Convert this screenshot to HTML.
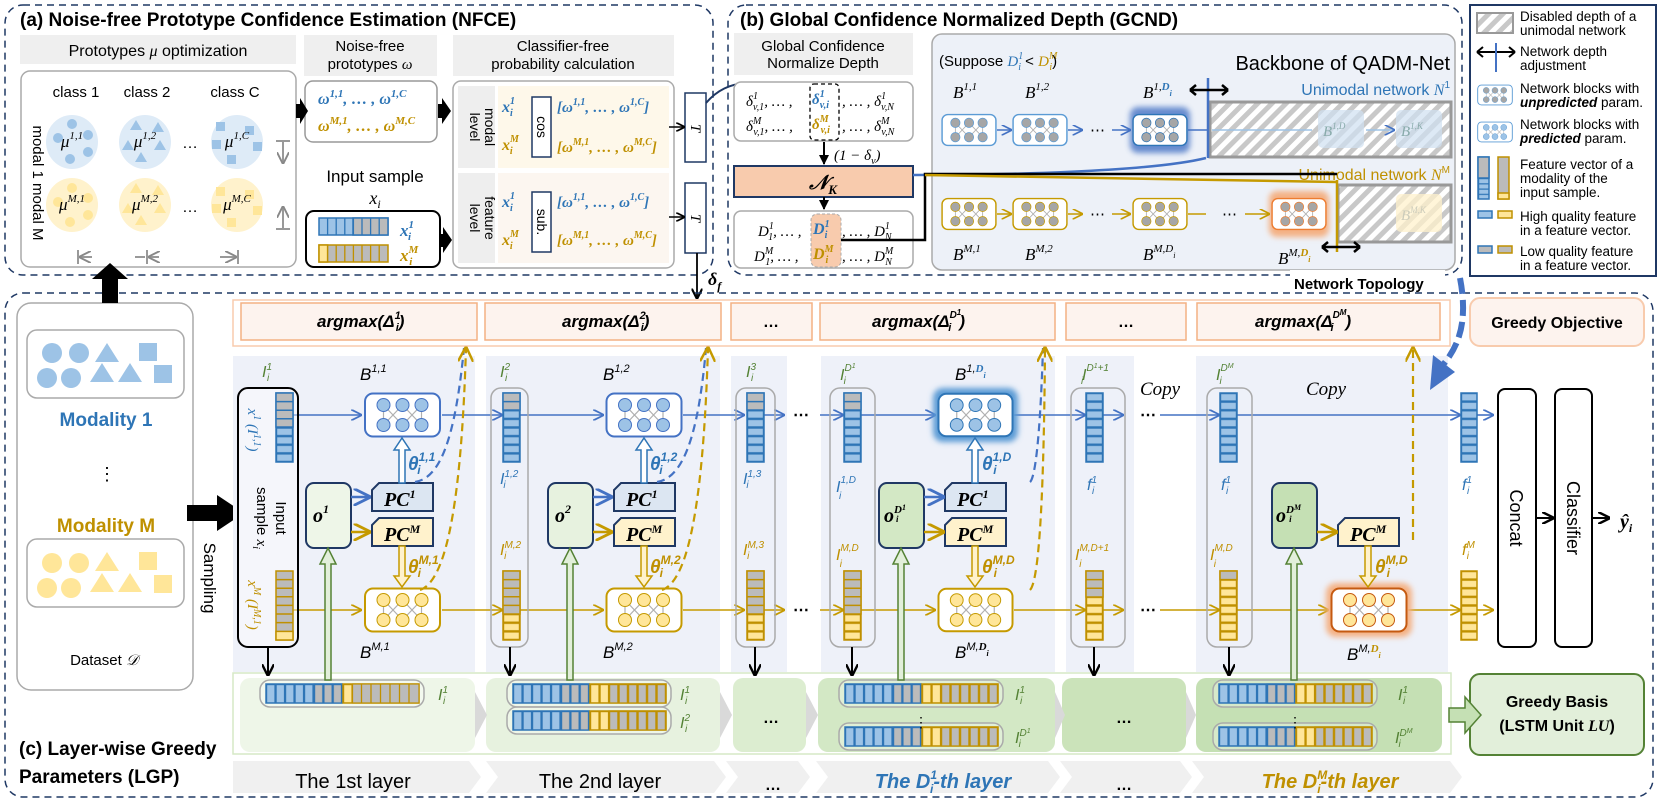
<!DOCTYPE html>
<html><head><meta charset="utf-8"><style>
html,body{margin:0;padding:0;background:#fff}
svg{display:block}
text{font-family:"Liberation Sans",sans-serif}
.m{font-family:"Liberation Serif",serif;font-style:italic}
.mb{font-family:"Liberation Serif",serif;font-style:italic;font-weight:bold}
.b{font-weight:bold}
</style></head><body>
<svg width="1661" height="803" viewBox="0 0 1661 803" xmlns="http://www.w3.org/2000/svg">
<defs>
<symbol id="nb" viewBox="0 0 78 46">
<rect x="1.5" y="1.5" width="75" height="43" rx="8" fill="#fff" stroke-width="2"/>
<g stroke="#b0b0b0" stroke-width="1.2"><line x1="20" y1="13" x2="39" y2="33"/><line x1="39" y1="13" x2="20" y2="33"/><line x1="39" y1="13" x2="58" y2="33"/><line x1="58" y1="13" x2="39" y2="33"/><line x1="20" y1="13" x2="20" y2="33"/><line x1="58" y1="13" x2="58" y2="33"/></g>
<g fill="currentColor"><circle cx="20" cy="13" r="6.5"/><circle cx="39" cy="13" r="6.5"/><circle cx="58" cy="13" r="6.5"/><circle cx="20" cy="33" r="6.5"/><circle cx="39" cy="33" r="6.5"/><circle cx="58" cy="33" r="6.5"/></g>
</symbol>
<pattern id="vb" patternUnits="objectBoundingBox" width="1" height="0.125"><rect x="0" y="0" width="17" height="8.6" fill="#9dc3e6" stroke="#2e75b6" stroke-width="2.4"/></pattern>
<pattern id="vy" patternUnits="objectBoundingBox" width="1" height="0.125"><rect x="0" y="0" width="17" height="8.6" fill="#ffe699" stroke="#bf9000" stroke-width="2.4"/></pattern>
<pattern id="hb" patternUnits="objectBoundingBox" width="0.125" height="1"><rect x="0" y="0" width="9.6" height="20" fill="#9dc3e6" stroke="#2e75b6" stroke-width="2.4"/></pattern>
<pattern id="hy" patternUnits="objectBoundingBox" width="0.125" height="1"><rect x="0" y="0" width="9.6" height="20" fill="#ffe699" stroke="#bf9000" stroke-width="2.4"/></pattern>
<pattern id="hgb3" patternUnits="objectBoundingBox" width="0.3333" height="1"><rect x="0" y="0" width="9.4" height="20" fill="#bbb" stroke="#2e75b6" stroke-width="2.4"/></pattern>
<pattern id="hgy6" patternUnits="objectBoundingBox" width="0.16667" height="1"><rect x="0" y="0" width="9.5" height="20" fill="#bbb" stroke="#bf9000" stroke-width="2.4"/></pattern>
<pattern id="hatch" patternUnits="userSpaceOnUse" width="10" height="10" patternTransform="rotate(45)"><rect width="10" height="10" fill="#fff"/><rect width="5" height="10" fill="#c8c8c8"/></pattern>
<marker id="ab" viewBox="0 0 10 10" refX="9" refY="5" markerWidth="7" markerHeight="7" orient="auto"><path d="M0,0 L10,5 L0,10" fill="none" stroke="#4472c4" stroke-width="1.6"/></marker>
<marker id="ay" viewBox="0 0 10 10" refX="9" refY="5" markerWidth="7" markerHeight="7" orient="auto"><path d="M0,0 L10,5 L0,10" fill="none" stroke="#c59a00" stroke-width="1.6"/></marker>
<marker id="ak" viewBox="0 0 10 10" refX="9" refY="5" markerWidth="6" markerHeight="6" orient="auto"><path d="M0,0 L10,5 L0,10" fill="none" stroke="#000" stroke-width="2"/></marker>
<marker id="akf" viewBox="0 0 10 10" refX="9" refY="5" markerWidth="5" markerHeight="5" orient="auto"><path d="M0,0 L10,5 L0,10z" fill="#000"/></marker>
<marker id="ag" viewBox="0 0 10 10" refX="9" refY="5" markerWidth="6" markerHeight="6" orient="auto"><path d="M0,0 L10,5 L0,10" fill="none" stroke="#888" stroke-width="1.6"/></marker>
<filter id="glowB" x="-30%" y="-30%" width="160%" height="160%"><feGaussianBlur stdDeviation="3"/></filter>
</defs>

<!-- ============ (a) ============ -->
<rect x="5" y="5" width="708" height="270" rx="18" fill="none" stroke="#1f3864" stroke-width="1.5" stroke-dasharray="7,5"/>
<text x="20" y="26" font-size="19" class="b">(a) Noise-free Prototype Confidence Estimation (NFCE)</text>
<rect x="20" y="35" width="276" height="29" fill="#efefef"/>
<text x="158" y="56" font-size="16" text-anchor="middle">Prototypes <tspan class="m">μ</tspan> optimization</text>
<rect x="21" y="71" width="275" height="196" rx="9" fill="#fff" stroke="#aaa" stroke-width="1.5"/>
<text x="76" y="97" font-size="15" text-anchor="middle">class 1</text>
<text x="147" y="97" font-size="15" text-anchor="middle">class 2</text>
<text x="235" y="97" font-size="15" text-anchor="middle">class C</text>
<text transform="translate(33,183) rotate(90)" font-size="15" text-anchor="middle">modal 1  modal M</text>
<g>
<ellipse cx="72" cy="142" rx="26" ry="27" fill="#deebf7"/><ellipse cx="145" cy="142" rx="26" ry="27" fill="#deebf7"/><ellipse cx="237" cy="142" rx="26" ry="27" fill="#deebf7"/>
<ellipse cx="72" cy="205" rx="26" ry="27" fill="#fff2cc"/><ellipse cx="145" cy="205" rx="26" ry="27" fill="#fff2cc"/><ellipse cx="237" cy="205" rx="26" ry="27" fill="#fff2cc"/>
<g fill="#9dc3e6"><circle cx="72" cy="124" r="5"/><circle cx="58" cy="138" r="5"/><circle cx="88" cy="135" r="5"/><circle cx="70" cy="159" r="5"/><circle cx="88" cy="152" r="5"/>
<path d="M136,120l6,10h-12z M158,122l6,10h-12z M128,140l6,10h-12z M160,140l6,10h-12z M141,152l6,10h-12z"/>
<rect x="216" y="122" width="9" height="9"/><rect x="245" y="126" width="9" height="9"/><rect x="212" y="140" width="9" height="9"/><rect x="253" y="142" width="9" height="9"/><rect x="227" y="155" width="9" height="9"/></g>
<g fill="#ffe699"><circle cx="72" cy="188" r="5"/><circle cx="58" cy="202" r="5"/><circle cx="88" cy="198" r="5"/><circle cx="70" cy="222" r="5"/><circle cx="88" cy="215" r="5"/>
<path d="M136,183l6,10h-12z M158,185l6,10h-12z M128,203l6,10h-12z M160,203l6,10h-12z M141,215l6,10h-12z"/>
<rect x="216" y="187" width="9" height="9"/><rect x="245" y="190" width="9" height="9"/><rect x="212" y="204" width="9" height="9"/><rect x="253" y="206" width="9" height="9"/><rect x="227" y="218" width="9" height="9"/></g>
<text x="72" y="147" class="m" font-size="17" text-anchor="middle">μ<tspan font-size="11" dy="-8">1,1</tspan></text>
<text x="145" y="147" class="m" font-size="17" text-anchor="middle">μ<tspan font-size="11" dy="-8">1,2</tspan></text>
<text x="237" y="147" class="m" font-size="17" text-anchor="middle">μ<tspan font-size="11" dy="-8">1,C</tspan></text>
<text x="72" y="210" class="m" font-size="17" text-anchor="middle">μ<tspan font-size="11" dy="-8">M,1</tspan></text>
<text x="145" y="210" class="m" font-size="17" text-anchor="middle">μ<tspan font-size="11" dy="-8">M,2</tspan></text>
<text x="237" y="210" class="m" font-size="17" text-anchor="middle">μ<tspan font-size="11" dy="-8">M,C</tspan></text>
<text x="190" y="148" font-size="16" text-anchor="middle">…</text><text x="190" y="212" font-size="16" text-anchor="middle">…</text>
</g>
<g stroke="#999" stroke-width="2" fill="none">
<path d="M276,141h14M283,141v22" marker-end="url(#ag)"/><path d="M276,229h14M283,229v-22" marker-end="url(#ag)"/>
<path d="M78,250v14M92,257h-12" marker-end="url(#ag)"/><path d="M147,250v14M135,257h10M159,257h-10" marker-end="url(#ag)"/><path d="M238,250v14M220,257h16" marker-end="url(#ag)"/>
</g>
<rect x="304" y="35" width="133" height="41" fill="#efefef"/>
<text x="370" y="51" font-size="15" text-anchor="middle">Noise-free</text>
<text x="370" y="69" font-size="15" text-anchor="middle">prototypes <tspan class="m">ω</tspan></text>
<rect x="305" y="81" width="132" height="61" rx="8" fill="#fff" stroke="#999" stroke-width="1.5"/>
<text x="318" y="104" class="mb" font-size="16" fill="#2e75b6">ω<tspan font-size="11" dy="-7">1,1</tspan><tspan dy="7">, … , ω</tspan><tspan font-size="11" dy="-7">1,C</tspan></text>
<text x="318" y="131" class="mb" font-size="16" fill="#bf9000">ω<tspan font-size="11" dy="-7">M,1</tspan><tspan dy="7">, … , ω</tspan><tspan font-size="11" dy="-7">M,C</tspan></text>
<path d="M296,104h4v-6l8,13-8,13v-6h-4z" fill="#000"/>
<text x="375" y="182" font-size="17" text-anchor="middle">Input sample</text>
<text x="375" y="204" class="m" font-size="18" text-anchor="middle">x<tspan font-size="12" dy="4">i</tspan></text>
<rect x="306" y="211" width="134" height="56" rx="8" fill="#fff" stroke="#000" stroke-width="2"/>
<rect x="319" y="218" width="69" height="17" fill="#9dc3e6" stroke="#2e75b6" stroke-width="1.5"/>
<rect x="353" y="218" width="35" height="17" fill="#bbb" stroke="#2e75b6" stroke-width="1.5"/>
<path d="M327.6,218v17M336.2,218v17M344.8,218v17M353.4,218v17M362,218v17M370.6,218v17M379.2,218v17" stroke="#2e75b6" stroke-width="1.3"/>
<rect x="319" y="245" width="69" height="17" fill="#bbb" stroke="#bf9000" stroke-width="1.5"/>
<rect x="319" y="245" width="8.6" height="17" fill="#ffe699" stroke="#bf9000" stroke-width="1.5"/>
<path d="M336.2,245v17M344.8,245v17M353.4,245v17M362,245v17M370.6,245v17M379.2,245v17" stroke="#bf9000" stroke-width="1.3"/>
<text x="400" y="236" class="mb" font-size="17" fill="#2e75b6">x<tspan font-size="11" dy="-8">1</tspan><tspan font-size="11" dx="-6" dy="12">i</tspan></text>
<text x="400" y="261" class="mb" font-size="17" fill="#bf9000">x<tspan font-size="11" dy="-8">M</tspan><tspan font-size="11" dx="-9" dy="12">i</tspan></text>
<path d="M438,104h4v-6l9,13-9,13v-6h-4z" fill="#000"/>
<path d="M440,234h3v-7l9,13-9,13v-6h-3z" fill="#000"/>
<rect x="453" y="35" width="221" height="41" fill="#efefef"/>
<text x="563" y="51" font-size="15" text-anchor="middle">Classifier-free</text>
<text x="563" y="69" font-size="15" text-anchor="middle">probability calculation</text>
<rect x="453" y="81" width="221" height="187" rx="8" fill="#fff" stroke="#aaa" stroke-width="1.5"/>
<rect x="458" y="86" width="37" height="82" fill="#eee"/><rect x="498" y="86" width="171" height="82" fill="#fef8ea"/>
<rect x="458" y="173" width="37" height="90" fill="#eee"/><rect x="498" y="173" width="171" height="90" fill="#fcf6f0"/>
<text transform="translate(485,127) rotate(90)" font-size="14" text-anchor="middle">modal</text>
<text transform="translate(470,127) rotate(90)" font-size="14" text-anchor="middle">level</text>
<text transform="translate(485,218) rotate(90)" font-size="14" text-anchor="middle">feature</text>
<text transform="translate(470,218) rotate(90)" font-size="14" text-anchor="middle">level</text>
<rect x="532" y="97" width="19" height="60" fill="#fff" stroke="#1f3864" stroke-width="1.5"/>
<text transform="translate(537,127) rotate(90)" font-size="14" text-anchor="middle">cos</text>
<rect x="532" y="192" width="19" height="60" fill="#fff" stroke="#1f3864" stroke-width="1.5"/>
<text transform="translate(537,222) rotate(90)" font-size="14" text-anchor="middle">sub.</text>
<text x="502" y="112" class="mb" font-size="16" fill="#2e75b6">x<tspan font-size="10" dy="-8">1</tspan><tspan font-size="10" dx="-5" dy="12">i</tspan></text>
<text x="502" y="150" class="mb" font-size="16" fill="#bf9000">x<tspan font-size="10" dy="-8">M</tspan><tspan font-size="10" dx="-9" dy="12">i</tspan></text>
<text x="502" y="207" class="mb" font-size="16" fill="#2e75b6">x<tspan font-size="10" dy="-8">1</tspan><tspan font-size="10" dx="-5" dy="12">i</tspan></text>
<text x="502" y="245" class="mb" font-size="16" fill="#bf9000">x<tspan font-size="10" dy="-8">M</tspan><tspan font-size="10" dx="-9" dy="12">i</tspan></text>
<text x="557" y="112" class="mb" font-size="15" fill="#2e75b6">[ω<tspan font-size="10" dy="-7">1,1</tspan><tspan dy="7">, … , ω</tspan><tspan font-size="10" dy="-7">1,C</tspan><tspan dy="7">]</tspan></text>
<text x="557" y="152" class="mb" font-size="15" fill="#bf9000">[ω<tspan font-size="10" dy="-7">M,1</tspan><tspan dy="7">, … , ω</tspan><tspan font-size="10" dy="-7">M,C</tspan><tspan dy="7">]</tspan></text>
<text x="557" y="207" class="mb" font-size="15" fill="#2e75b6">[ω<tspan font-size="10" dy="-7">1,1</tspan><tspan dy="7">, … , ω</tspan><tspan font-size="10" dy="-7">1,C</tspan><tspan dy="7">]</tspan></text>
<text x="557" y="245" class="mb" font-size="15" fill="#bf9000">[ω<tspan font-size="10" dy="-7">M,1</tspan><tspan dy="7">, … , ω</tspan><tspan font-size="10" dy="-7">M,C</tspan><tspan dy="7">]</tspan></text>
<rect x="685" y="93" width="21" height="69" fill="#fff" stroke="#1f3864" stroke-width="1.5"/>
<rect x="685" y="183" width="21" height="70" fill="#fff" stroke="#1f3864" stroke-width="1.5"/>
<text transform="translate(691,128) rotate(90)" class="m" font-size="15" text-anchor="middle">T</text>
<text transform="translate(691,218) rotate(90)" class="m" font-size="15" text-anchor="middle">T</text>
<path d="M669,127h15" stroke="#000" stroke-width="1.5" marker-end="url(#ak)"/>
<path d="M669,217h15" stroke="#000" stroke-width="1.5" marker-end="url(#ak)"/>
<path d="M697,253v45" stroke="#000" stroke-width="1.8" marker-end="url(#ak)"/>
<text x="708" y="285" class="mb" font-size="18">δ<tspan font-size="12" dy="5">f</tspan></text>
<path d="M706,103 C730,75 760,82 805,90" fill="none" stroke="#1f3864" stroke-width="2" marker-end="url(#ak)"/>

<!-- ============ (b) ============ -->
<rect x="728" y="5" width="734" height="270" rx="18" fill="none" stroke="#1f3864" stroke-width="1.5" stroke-dasharray="7,5"/>
<text x="740" y="26" font-size="19" class="b">(b) Global Confidence Normalized Depth (GCND)</text>
<rect x="734" y="33" width="179" height="42" fill="#efefef"/>
<text x="823" y="51" font-size="15" text-anchor="middle">Global Confidence</text>
<text x="823" y="68" font-size="15" text-anchor="middle">Normalize Depth</text>
<rect x="734" y="82" width="179" height="59" rx="7" fill="#fff" stroke="#aaa" stroke-width="1.5"/>
<rect x="810" y="84" width="29" height="56" rx="4" fill="none" stroke="#000" stroke-width="1.3" stroke-dasharray="4,3"/>
<text x="746" y="106" class="m" font-size="15">δ<tspan font-size="10" dy="-7">1</tspan><tspan font-size="10" dx="-5" dy="11">v,1</tspan><tspan dy="-4">, … ,</tspan></text>
<text x="812" y="104" class="mb" font-size="15" fill="#2e75b6">δ<tspan font-size="10" dy="-7">1</tspan><tspan font-size="10" dx="-5" dy="11">v,i</tspan></text>
<text x="842" y="106" class="m" font-size="15">, … , δ<tspan font-size="10" dy="-7">1</tspan><tspan font-size="10" dx="-5" dy="11">v,N</tspan></text>
<text x="746" y="131" class="m" font-size="15">δ<tspan font-size="10" dy="-7">M</tspan><tspan font-size="10" dx="-8" dy="11">v,1</tspan><tspan dy="-4">, … ,</tspan></text>
<text x="812" y="129" class="mb" font-size="15" fill="#bf9000">δ<tspan font-size="10" dy="-7">M</tspan><tspan font-size="10" dx="-8" dy="11">v,i</tspan></text>
<text x="842" y="131" class="m" font-size="15">, … , δ<tspan font-size="10" dy="-7">M</tspan><tspan font-size="10" dx="-8" dy="11">v,N</tspan></text>
<path d="M824,142v22" stroke="#000" stroke-width="2" marker-end="url(#akf)"/>
<text x="834" y="160" class="m" font-size="15">(1 − δ<tspan font-size="10" dy="4">v</tspan><tspan dy="-4">)</tspan></text>
<rect x="734" y="166" width="179" height="31" fill="#f8cbad" stroke="#1f3864" stroke-width="2"/>
<text x="823" y="189" class="mb" font-size="20" text-anchor="middle">𝒩<tspan font-size="13" dy="5">K</tspan></text>
<path d="M824,197v12" stroke="#000" stroke-width="2" marker-end="url(#akf)"/>
<rect x="734" y="211" width="179" height="57" rx="7" fill="#fff" stroke="#aaa" stroke-width="1.5"/>
<rect x="811" y="214" width="30" height="53" rx="6" fill="#f8cbad" stroke="#aaa" stroke-dasharray="3,2"/>
<text x="758" y="236" class="m" font-size="15">D<tspan font-size="10" dy="-7">1</tspan><tspan font-size="10" dx="-5" dy="11">1</tspan><tspan dy="-4">, … ,</tspan></text>
<text x="813" y="234" class="mb" font-size="16" fill="#2e75b6">D<tspan font-size="10" dy="-7">1</tspan><tspan font-size="10" dx="-5" dy="11">i</tspan></text>
<text x="842" y="236" class="m" font-size="15">, … , D<tspan font-size="10" dy="-7">1</tspan><tspan font-size="10" dx="-5" dy="11">N</tspan></text>
<text x="754" y="261" class="m" font-size="15">D<tspan font-size="10" dy="-7">M</tspan><tspan font-size="10" dx="-8" dy="11">1</tspan><tspan dy="-4">, … ,</tspan></text>
<text x="813" y="259" class="mb" font-size="16" fill="#bf9000">D<tspan font-size="10" dy="-7">M</tspan><tspan font-size="10" dx="-8" dy="11">i</tspan></text>
<text x="842" y="261" class="m" font-size="15">, … , D<tspan font-size="10" dy="-7">M</tspan><tspan font-size="10" dx="-8" dy="11">N</tspan></text>
<!-- backbone -->
<rect x="932" y="34" width="523" height="236" rx="10" fill="#edf1f8" stroke="#aaa" stroke-width="1.5"/>
<text x="939" y="66" font-size="15">(Suppose <tspan class="m" fill="#2e75b6">D<tspan font-size="10" dy="-7">1</tspan><tspan font-size="10" dx="-5" dy="11">i</tspan></tspan><tspan dy="-4"> &lt; </tspan><tspan class="m" fill="#bf9000">D<tspan font-size="10" dy="-7">M</tspan><tspan font-size="10" dx="-8" dy="11">i</tspan></tspan><tspan dy="-4">)</tspan></text>
<text x="1450" y="70" font-size="20" text-anchor="end">Backbone of QADM-Net</text>
<text x="1450" y="95" font-size="16" text-anchor="end" fill="#2e75b6">Unimodal network <tspan class="m">N</tspan><tspan font-size="10" dy="-7">1</tspan></text>
<text x="1450" y="180" font-size="16" text-anchor="end" fill="#bf9000">Unimodal network <tspan class="m">N</tspan><tspan font-size="10" dy="-7">M</tspan></text>
<rect x="1210" y="102" width="241" height="55" fill="url(#hatch)" stroke="#999" stroke-width="3"/>
<rect x="1338" y="185" width="113" height="57" fill="url(#hatch)" stroke="#999" stroke-width="3"/>
<rect x="1318" y="110" width="46" height="38" rx="5" fill="#cfe0f1" opacity=".7"/><rect x="1396" y="110" width="46" height="38" rx="5" fill="#cfe0f1" opacity=".7"/>
<rect x="1396" y="194" width="46" height="38" rx="5" fill="#fff2cc" opacity=".75"/>
<text x="1323" y="136" class="m" font-size="15" fill="#8aa">B<tspan font-size="9" dy="-7">1,D</tspan></text>
<text x="1401" y="136" class="m" font-size="15" fill="#8aa">B<tspan font-size="9" dy="-7">1,K</tspan></text>
<text x="1401" y="220" class="m" font-size="15" fill="#ccb">B<tspan font-size="9" dy="-7">M,K</tspan></text>
<g color="#a6a6a6">
<use href="#nb" x="941" y="109" width="56" height="42" stroke="#5b9bd5"/>
<use href="#nb" x="1012" y="109" width="56" height="42" stroke="#5b9bd5"/>
<rect x="1130" y="107" width="60" height="46" rx="8" fill="#4472c4" filter="url(#glowB)" opacity=".8"/>
<use href="#nb" x="1132" y="109" width="56" height="42" stroke="#2e75b6"/>
<use href="#nb" x="941" y="193" width="56" height="42" stroke="#c59a00"/>
<use href="#nb" x="1012" y="193" width="56" height="42" stroke="#c59a00"/>
<use href="#nb" x="1132" y="193" width="56" height="42" stroke="#c59a00"/>
<rect x="1269" y="191" width="60" height="46" rx="8" fill="#f4b183" filter="url(#glowB)"/>
<use href="#nb" x="1271" y="193" width="56" height="42" stroke="#ed7d31"/>
</g>
<g stroke="#4472c4" stroke-width="1.5"><path d="M997,130h14" marker-end="url(#ab)"/><path d="M1068,130h14" marker-end="url(#ab)"/><path d="M1112,130h18" marker-end="url(#ab)"/><path d="M1188,130h20"/><path d="M1212,130h100M1366,130h28" stroke="#9dc3e6" marker-end="url(#ab)"/></g>
<text x="1090" y="135" font-size="15">⋯</text>
<g stroke="#c59a00" stroke-width="1.5"><path d="M997,214h14" marker-end="url(#ay)"/><path d="M1068,214h14" marker-end="url(#ay)"/><path d="M1112,214h18" marker-end="url(#ay)"/><path d="M1188,214h18"/><path d="M1245,214h24" marker-end="url(#ay)"/></g>
<text x="1090" y="219" font-size="15">⋯</text><text x="1222" y="219" font-size="15">⋯</text>
<text x="953" y="98" class="m" font-size="17">B<tspan font-size="11" dy="-8">1,1</tspan></text>
<text x="1025" y="98" class="m" font-size="17">B<tspan font-size="11" dy="-8">1,2</tspan></text>
<text x="1143" y="98" class="m" font-size="17">B<tspan font-size="11" dy="-8">1,</tspan><tspan font-size="11" class="mb" fill="#2e75b6">D</tspan><tspan font-size="8" dy="6" class="mb" fill="#2e75b6">i</tspan></text>
<text x="953" y="260" class="m" font-size="17">B<tspan font-size="11" dy="-8">M,1</tspan></text>
<text x="1025" y="260" class="m" font-size="17">B<tspan font-size="11" dy="-8">M,2</tspan></text>
<text x="1143" y="260" class="m" font-size="17">B<tspan font-size="11" dy="-8">M,D</tspan><tspan font-size="8" dy="6">i</tspan></text>
<text x="1278" y="264" class="m" font-size="17">B<tspan font-size="11" dy="-8">M,</tspan><tspan font-size="11" class="mb" fill="#bf9000">D</tspan><tspan font-size="8" dy="6" class="mb" fill="#bf9000">i</tspan></text>
<path d="M1208,78v80" stroke="#4472c4" stroke-width="2.5"/>
<path d="M1337,180v72" stroke="#c59a00" stroke-width="2.5"/>
<path d="M1190,90h38M1190,90l6,-5M1190,90l6,5M1228,90l-6,-5M1228,90l-6,5" stroke="#000" stroke-width="2.5" fill="none"/>
<path d="M1322,247h38M1322,247l6,-5M1322,247l6,5M1360,247l-6,-5M1360,247l-6,5" stroke="#000" stroke-width="2.5" fill="none"/>
<path d="M913,175 C1000,175 1150,172 1206,158" fill="none" stroke="#4472c4" stroke-width="2.5"/>
<path d="M841,240h84v-66h412" fill="none" stroke="#000" stroke-width="2.5"/>
<path d="M925,175 L1337,182" stroke="#c59a00" stroke-width="2.5"/>

<!-- legend -->
<rect x="1470" y="5" width="186" height="271" fill="#fff" stroke="#1f3864" stroke-width="2"/>
<rect x="1477" y="13" width="36" height="20" fill="url(#hatch)" stroke="#999" stroke-width="2"/>
<g font-size="13.5"><text x="1520" y="21">Disabled depth of a</text><text x="1520" y="35">unimodal network</text>
<text x="1520" y="56">Network depth</text><text x="1520" y="70">adjustment</text>
<text x="1520" y="93">Network blocks with</text><text x="1520" y="107"><tspan class="b" font-style="italic">unpredicted</tspan> param.</text>
<text x="1520" y="129">Network blocks with</text><text x="1520" y="143"><tspan class="b" font-style="italic">predicted</tspan> param.</text>
<text x="1520" y="169">Feature vector of a</text><text x="1520" y="183">modality of the</text><text x="1520" y="197">input sample.</text>
<text x="1520" y="221">High quality feature</text><text x="1520" y="235">in a feature vector.</text>
<text x="1520" y="256">Low quality feature</text><text x="1520" y="270">in a feature vector.</text></g>
<path d="M1477,52h38M1477,52l6,-5M1477,52l6,5M1515,52l-6,-5M1515,52l-6,5" stroke="#000" stroke-width="2" fill="none"/>
<path d="M1496,43v29" stroke="#4472c4" stroke-width="2"/>
<use href="#nb" x="1477" y="81" width="36" height="28" stroke="#5b9bd5" color="#a6a6a6"/>
<use href="#nb" x="1477" y="118" width="36" height="28" stroke="#5b9bd5" color="#9dc3e6"/>
<rect x="1478" y="157" width="11" height="42" fill="url(#vb)" stroke="#2e75b6" stroke-width="1.5"/>
<rect x="1478" y="157" width="11" height="21" fill="#bbb" stroke="#2e75b6" stroke-width="1.5"/>
<rect x="1498" y="157" width="11" height="42" fill="#bbb" stroke="#bf9000" stroke-width="1.5"/>
<rect x="1498" y="193" width="11" height="6" fill="#ffe699" stroke="#bf9000" stroke-width="1.5"/>
<rect x="1478" y="211" width="14" height="7" fill="#9dc3e6" stroke="#2e75b6" stroke-width="1.5"/><rect x="1498" y="211" width="14" height="7" fill="#ffe699" stroke="#bf9000" stroke-width="1.5"/>
<rect x="1478" y="246" width="14" height="7" fill="#bbb" stroke="#2e75b6" stroke-width="1.5"/><rect x="1498" y="246" width="14" height="7" fill="#bbb" stroke="#bf9000" stroke-width="1.5"/>

<!-- ============ (c) ============ -->
<rect x="5" y="293" width="1648" height="504" rx="18" fill="none" stroke="#1f3864" stroke-width="1.5" stroke-dasharray="7,5"/>
<text x="19" y="755" font-size="19" class="b">(c) Layer-wise Greedy</text>
<text x="19" y="783" font-size="19" class="b">Parameters (LGP)</text>
<rect x="1290" y="270" width="155" height="20" fill="#fff"/>
<text x="1294" y="289" font-size="15" class="b">Network Topology</text>
<!-- dataset -->
<rect x="17" y="303" width="176" height="387" rx="14" fill="#fff" stroke="#aaa" stroke-width="1.5"/>
<rect x="27" y="330" width="157" height="68" rx="10" fill="#fff" stroke="#aaa" stroke-width="1.5"/>
<rect x="27" y="539" width="157" height="68" rx="10" fill="#fff" stroke="#aaa" stroke-width="1.5"/>
<g fill="#9dc3e6"><circle cx="52" cy="353" r="10"/><circle cx="79" cy="353" r="10"/><circle cx="47" cy="378" r="10"/><circle cx="71" cy="378" r="10"/><path d="M107,343l12,19h-24z M102,363l12,19h-24z M130,363l12,19h-24z"/><rect x="139" y="343" width="18" height="18"/><rect x="154" y="365" width="18" height="18"/></g>
<g fill="#ffe699"><circle cx="52" cy="563" r="10"/><circle cx="79" cy="563" r="10"/><circle cx="47" cy="588" r="10"/><circle cx="71" cy="588" r="10"/><path d="M107,552l12,19h-24z M102,573l12,19h-24z M130,573l12,19h-24z"/><rect x="139" y="552" width="18" height="18"/><rect x="154" y="575" width="18" height="18"/></g>
<text x="106" y="426" font-size="19" class="b" fill="#2e75b6" text-anchor="middle">Modality 1</text>
<text x="107" y="480" font-size="18" text-anchor="middle">⋮</text>
<text x="106" y="532" font-size="19" class="b" fill="#bf9000" text-anchor="middle">Modality M</text>
<text x="104" y="665" font-size="15" text-anchor="middle">Dataset <tspan class="m">𝒟</tspan></text>
<path d="M102,303v-24h-10l18,-16 18,16h-10v24z" fill="#000"/>
<path d="M187,505h30v-10l27,18-27,18v-10h-30z" fill="#000"/>
<text transform="translate(204,578) rotate(90)" font-size="17" text-anchor="middle">Sampling</text>

<!-- argmax row -->
<rect x="233" y="300" width="1217" height="46" fill="#fff" stroke="#f8cbad" stroke-width="1.5"/>
<g fill="#fdf3ee" stroke="#f4b183" stroke-width="1.5">
<rect x="241" y="303" width="236" height="37"/><rect x="485" y="303" width="236" height="37"/><rect x="731" y="303" width="81" height="37"/>
<rect x="820" y="303" width="235" height="37"/><rect x="1066" y="303" width="120" height="37"/><rect x="1197" y="303" width="243" height="37"/></g>
<g class="mb" font-size="17">
<text x="317" y="327">argmax(Δ<tspan font-size="11" dy="-8">1</tspan><tspan font-size="11" dx="-5" dy="12">i</tspan><tspan dy="-4">)</tspan></text>
<text x="562" y="327">argmax(Δ<tspan font-size="11" dy="-8">2</tspan><tspan font-size="11" dx="-5" dy="12">i</tspan><tspan dy="-4">)</tspan></text>
<text x="872" y="327">argmax(Δ<tspan font-size="10" dy="-9">D</tspan><tspan font-size="8" dy="-3">1</tspan><tspan font-size="11" dx="-13" dy="16">i</tspan><tspan dy="-4" dx="8">)</tspan></text>
<text x="1255" y="327">argmax(Δ<tspan font-size="10" dy="-9">D</tspan><tspan font-size="8" dy="-3">M</tspan><tspan font-size="11" dx="-16" dy="16">i</tspan><tspan dy="-4" dx="12">)</tspan></text>
</g>
<text x="771" y="327" font-size="16" class="b" text-anchor="middle">…</text>
<text x="1126" y="327" font-size="16" class="b" text-anchor="middle">…</text>
<rect x="1470" y="298" width="174" height="48" rx="10" fill="#fdf3ee" stroke="#f8cbad" stroke-width="2"/>
<text x="1557" y="328" font-size="16" class="b" text-anchor="middle">Greedy Objective</text>

<!-- lavender columns -->
<g fill="#eef1f9">
<rect x="233" y="356" width="242" height="316"/><rect x="486" y="356" width="234" height="316"/><rect x="731" y="356" width="56" height="316"/>
<rect x="821" y="356" width="234" height="316"/><rect x="1066" y="356" width="68" height="316"/><rect x="1196" y="356" width="252" height="316"/></g>

<!-- green row -->
<rect x="233" y="673" width="1218" height="81" fill="#fff" stroke="#d6e9c6" stroke-width="1.5"/>
<rect x="240" y="678" width="235" height="74" rx="10" fill="#eef6e8"/>
<rect x="486" y="678" width="234" height="74" rx="10" fill="#e7f2df"/>
<rect x="733" y="678" width="73" height="74" rx="10" fill="#dcedd0"/>
<rect x="818" y="678" width="237" height="74" rx="10" fill="#d3e8c5"/>
<rect x="1062" y="678" width="124" height="74" rx="10" fill="#cbe3ba"/>
<rect x="1196" y="678" width="246" height="74" rx="10" fill="#c5e0b4"/>
<g fill="#d9d9d9"><path d="M475,692l12,23-12,23z"/><path d="M720,692l12,23-12,23z"/><path d="M806,692l12,23-12,23z"/><path d="M1055,692l10,23-10,23z"/><path d="M1186,692l10,23-10,23z"/></g>
<text x="771" y="723" font-size="16" class="b" text-anchor="middle">…</text>
<text x="1124" y="723" font-size="16" class="b" text-anchor="middle">…</text>
<!-- pills -->
<g>
<rect x="260" y="680" width="164" height="27" rx="10" fill="#fff" fill-opacity=".3" stroke="#aaa" stroke-width="1.5"/>
<rect x="266" y="684" width="76" height="19" fill="url(#hb)" stroke="#2e75b6" stroke-width="1.5"/><rect x="314" y="684" width="28" height="19" fill="url(#hgb3)" stroke="#2e75b6" stroke-width="1.2"/>
<rect x="343" y="684" width="76" height="19" fill="url(#hy)" stroke="#bf9000" stroke-width="1.5"/><rect x="352.5" y="684" width="66.5" height="19" fill="#bbb" stroke="#bf9000" stroke-width="1.2"/>
<path d="M361.5,684v19M371,684v19M380.5,684v19M390,684v19M399.5,684v19M409,684v19" stroke="#bf9000" stroke-width="1.3"/>
</g>
<g id="pill2">
<rect x="507" y="680" width="164" height="27" rx="10" fill="#fff" fill-opacity=".3" stroke="#aaa" stroke-width="1.5"/>
<rect x="513" y="684" width="76" height="19" fill="url(#hb)" stroke="#2e75b6" stroke-width="1.5"/><rect x="561" y="684" width="28" height="19" fill="url(#hgb3)" stroke="#2e75b6" stroke-width="1.2"/>
<rect x="590" y="684" width="76" height="19" fill="url(#hy)" stroke="#bf9000" stroke-width="1.5"/><rect x="609" y="684" width="57" height="19" fill="url(#hgy6)" stroke="#bf9000" stroke-width="1.2"/>
</g>
<use href="#pill2" y="27"/>
<use href="#pill2" x="332" y="0"/>
<use href="#pill2" x="332" y="43"/>
<use href="#pill2" x="706" y="0"/>
<use href="#pill2" x="706" y="43"/>
<text x="921" y="727" font-size="14" text-anchor="middle">⋮</text><text x="1295" y="727" font-size="14" text-anchor="middle">⋮</text>
<g class="m" font-size="16" fill="#548235">
<text x="438" y="700">I<tspan font-size="10" dy="-7">1</tspan><tspan font-size="10" dx="-5" dy="11">i</tspan></text>
<text x="680" y="700">I<tspan font-size="10" dy="-7">1</tspan><tspan font-size="10" dx="-5" dy="11">i</tspan></text>
<text x="680" y="728">I<tspan font-size="10" dy="-7">2</tspan><tspan font-size="10" dx="-5" dy="11">i</tspan></text>
<text x="1015" y="700">I<tspan font-size="10" dy="-7">1</tspan><tspan font-size="10" dx="-5" dy="11">i</tspan></text>
<text x="1015" y="743">I<tspan font-size="10" dy="-7">D</tspan><tspan font-size="7" dy="-3">1</tspan><tspan font-size="10" dx="-12" dy="14">i</tspan></text>
<text x="1398" y="700">I<tspan font-size="10" dy="-7">1</tspan><tspan font-size="10" dx="-5" dy="11">i</tspan></text>
<text x="1395" y="743">I<tspan font-size="10" dy="-7">D</tspan><tspan font-size="7" dy="-3">M</tspan><tspan font-size="10" dx="-14" dy="14">i</tspan></text>
</g>
<!-- layer labels -->
<g fill="#f0f0f0">
<path d="M233,761h236l12,16-12,16h-236z"/><path d="M486,761h228l12,16-12,16h-228l12,-16z"/><path d="M726,761h72l12,16-12,16h-72l12,-16z"/>
<path d="M816,761h232l12,16-12,16h-232l12,-16z"/><path d="M1060,761h120l12,16-12,16h-120l12,-16z"/><path d="M1192,761h258l12,16-12,16h-258l12,-16z"/></g>
<text x="353" y="788" font-size="20" text-anchor="middle">The 1st layer</text>
<text x="600" y="788" font-size="20" text-anchor="middle">The 2nd layer</text>
<text x="773" y="790" font-size="16" class="b" text-anchor="middle">…</text>
<text x="1124" y="790" font-size="16" class="b" text-anchor="middle">…</text>
<text x="943" y="788" font-size="20" class="b" font-style="italic" fill="#2e75b6" text-anchor="middle">The D<tspan font-size="12" dy="-9">1</tspan><tspan font-size="12" dx="-7" dy="14">i</tspan><tspan dy="-5">-th layer</tspan></text>
<text x="1330" y="788" font-size="20" class="b" font-style="italic" fill="#bf9000" text-anchor="middle">The D<tspan font-size="12" dy="-9">M</tspan><tspan font-size="12" dx="-10" dy="14">i</tspan><tspan dy="-5">-th layer</tspan></text>
<!-- greedy basis -->
<rect x="1470" y="674" width="174" height="81" rx="10" fill="#e2efda" stroke="#548235" stroke-width="2"/>
<text x="1557" y="707" font-size="16" class="b" text-anchor="middle">Greedy Basis</text>
<text x="1557" y="731" font-size="16" class="b" text-anchor="middle">(LSTM Unit <tspan class="m">LU</tspan>)</text>
<path d="M1449,708h16v-11l16,18-16,18v-11h-16z" fill="#c5e0b4" stroke="#548235" stroke-width="1.5"/>

<!-- main flow lines -->
<g stroke="#4472c4" stroke-width="1.6" fill="none">
<path d="M293,415h68" marker-end="url(#ab)"/><path d="M442,415h60" marker-end="url(#ab)"/><path d="M520,415h83" marker-end="url(#ab)"/>
<path d="M683,415h61" marker-end="url(#ab)"/><path d="M764,415h20" marker-end="url(#ab)"/><path d="M820,415h23" marker-end="url(#ab)"/>
<path d="M861,415h74" marker-end="url(#ab)"/><path d="M1014,415h71" marker-end="url(#ab)"/><path d="M1103,415h20" marker-end="url(#ab)"/>
<path d="M1160,415h59" marker-end="url(#ab)"/><path d="M1237,415h223" marker-end="url(#ab)"/><path d="M1477,415h16" marker-end="url(#ab)"/></g>
<g stroke="#c59a00" stroke-width="1.6" fill="none">
<path d="M293,610h68" marker-end="url(#ay)"/><path d="M442,610h60" marker-end="url(#ay)"/><path d="M520,610h83" marker-end="url(#ay)"/>
<path d="M683,610h61" marker-end="url(#ay)"/><path d="M764,610h20" marker-end="url(#ay)"/><path d="M820,610h23" marker-end="url(#ay)"/>
<path d="M861,610h74" marker-end="url(#ay)"/><path d="M1014,610h71" marker-end="url(#ay)"/><path d="M1103,610h20" marker-end="url(#ay)"/>
<path d="M1160,610h59" marker-end="url(#ay)"/><path d="M1237,610h91" marker-end="url(#ay)"/><path d="M1408,610h52" marker-end="url(#ay)"/><path d="M1477,610h16" marker-end="url(#ay)"/></g>
<text x="793" y="420" font-size="16" class="b">⋯</text><text x="793" y="615" font-size="16" class="b">⋯</text>
<text x="1140" y="420" font-size="16" class="b">⋯</text><text x="1140" y="615" font-size="16" class="b">⋯</text>

<!-- input sample box -->
<rect x="238" y="388" width="60" height="259" rx="10" fill="#fff" fill-opacity=".4" stroke="#000" stroke-width="2"/>
<text transform="translate(248,430) rotate(90)" class="m" font-size="15" fill="#2e75b6" text-anchor="middle">x<tspan font-size="10" dy="-6">1</tspan><tspan dy="6"> (I</tspan><tspan font-size="10" dy="-6">1,1</tspan><tspan dy="6">)</tspan></text>
<text transform="translate(248,605) rotate(90)" class="m" font-size="15" fill="#bf9000" text-anchor="middle">x<tspan font-size="10" dy="-6">M</tspan><tspan dy="6"> (I</tspan><tspan font-size="10" dy="-6">M,1</tspan><tspan dy="6">)</tspan></text>
<text transform="translate(276,518) rotate(90)" font-size="15" text-anchor="middle">Input</text>
<text transform="translate(257,518) rotate(90)" font-size="15" text-anchor="middle">sample <tspan class="m">x</tspan><tspan class="m" font-size="10" dy="4">i</tspan></text>
<!-- vector boxes -->
<g fill="none" stroke="#aaa" stroke-width="1.5">
<rect x="491" y="388" width="37" height="259" rx="10"/><rect x="736" y="388" width="39" height="259" rx="10"/>
<rect x="830" y="388" width="45" height="259" rx="10"/><rect x="1071" y="388" width="54" height="259" rx="10"/><rect x="1207" y="388" width="45" height="259" rx="10"/></g>
<!-- vectors -->
<g stroke-width="1.5">
<rect x="276" y="393" width="17" height="69" fill="url(#vb)" stroke="#2e75b6"/><rect x="276" y="393" width="17" height="34" fill="#bbb" stroke="#2e75b6"/><path d="M276,401.6h17M276,410.2h17M276,418.8h17" stroke="#2e75b6"/>
<rect x="276" y="571" width="17" height="69" fill="#bbb" stroke="#bf9000"/><rect x="276" y="631.4" width="17" height="8.6" fill="#ffe699" stroke="#bf9000"/><path d="M276,579.6h17M276,588.2h17M276,596.8h17M276,605.4h17M276,614h17M276,622.6h17" stroke="#bf9000"/>
<g id="vcol">
<rect x="503" y="393" width="17" height="69" fill="url(#vb)" stroke="#2e75b6"/><rect x="503" y="393" width="17" height="17" fill="#bbb" stroke="#2e75b6"/><path d="M503,401.6h17" stroke="#2e75b6"/>
<rect x="503" y="571" width="17" height="69" fill="url(#vy)" stroke="#bf9000"/><rect x="503" y="571" width="17" height="43" fill="#bbb" stroke="#bf9000"/><path d="M503,579.6h17M503,588.2h17M503,596.8h17M503,605.4h17" stroke="#bf9000"/>
</g>
<use href="#vcol" x="244"/><use href="#vcol" x="341"/>
<rect x="1086" y="393" width="17" height="69" fill="url(#vb)" stroke="#2e75b6"/>
<rect x="1086" y="571" width="17" height="69" fill="url(#vy)" stroke="#bf9000"/><rect x="1086" y="571" width="17" height="26" fill="#bbb" stroke="#bf9000"/><path d="M1086,579.6h17M1086,588.2h17" stroke="#bf9000"/>
<rect x="1220" y="393" width="17" height="69" fill="url(#vb)" stroke="#2e75b6"/>
<rect x="1220" y="571" width="17" height="69" fill="url(#vy)" stroke="#bf9000"/><rect x="1220" y="571" width="17" height="8.6" fill="#bbb" stroke="#bf9000"/>
<rect x="1461" y="393" width="16" height="69" fill="url(#vb)" stroke="#2e75b6"/>
<rect x="1461" y="571" width="16" height="69" fill="url(#vy)" stroke="#bf9000"/>
</g>
<!-- down arrows -->
<g stroke="#000" stroke-width="2"><path d="M268,647v28" marker-end="url(#ak)"/><path d="M510,647v28" marker-end="url(#ak)"/><path d="M755,647v28" marker-end="url(#ak)"/><path d="M852,647v28" marker-end="url(#ak)"/><path d="M1094,647v28" marker-end="url(#ak)"/><path d="M1229,647v28" marker-end="url(#ak)"/></g>

<!-- blocks in (c) -->
<g>
<use href="#nb" x="363" y="392" width="79" height="46" stroke="#4472c4" color="#9dc3e6"/>
<use href="#nb" x="363" y="587" width="79" height="46" stroke="#c59a00" color="#ffe699"/>
<use href="#nb" x="605" y="392" width="78" height="46" stroke="#4472c4" color="#9dc3e6"/>
<use href="#nb" x="605" y="587" width="78" height="46" stroke="#c59a00" color="#ffe699"/>
<rect x="933" y="388" width="85" height="54" rx="10" fill="#5b9bd5" filter="url(#glowB)"/>
<use href="#nb" x="937" y="392" width="77" height="46" stroke="#2e75b6" color="#9dc3e6"/>
<use href="#nb" x="937" y="587" width="77" height="46" stroke="#c59a00" color="#ffe699"/>
<rect x="1326" y="583" width="86" height="54" rx="10" fill="#f4b183" filter="url(#glowB)"/>
<use href="#nb" x="1330" y="587" width="78" height="46" stroke="#c55a11" color="#ffe699"/>
</g>
<!-- o boxes -->
<g stroke="#1f3864" stroke-width="2">
<rect x="306" y="483" width="45" height="65" rx="8" fill="#eef6e8"/>
<rect x="548" y="483" width="45" height="65" rx="8" fill="#e7f2df"/>
<rect x="879" y="483" width="45" height="65" rx="8" fill="#d3e8c5"/>
<rect x="1272" y="483" width="45" height="65" rx="8" fill="#c5e0b4"/></g>
<text x="313" y="522" class="mb" font-size="20">o<tspan font-size="12" dy="-9">1</tspan></text>
<text x="555" y="522" class="mb" font-size="20">o<tspan font-size="12" dy="-9">2</tspan></text>
<text x="884" y="522" class="mb" font-size="20">o<tspan font-size="11" dy="-9">D</tspan><tspan font-size="8" dy="-3">1</tspan><tspan font-size="9" dx="-10" dy="12">i</tspan></text>
<text x="1276" y="522" class="mb" font-size="20">o<tspan font-size="11" dy="-9">D</tspan><tspan font-size="8" dy="-3">M</tspan><tspan font-size="9" dx="-12" dy="12">i</tspan></text>
<!-- PC boxes -->
<g id="pc1"><path d="M379,483h54v28h-61v-21z" fill="#dce6f2" stroke="#1f3864" stroke-width="2"/>
<text x="384" y="506" class="mb" font-size="20">PC<tspan font-size="12" dy="-8">1</tspan></text></g>
<g id="pcm"><path d="M379,518h54v28h-61v-21z" fill="#fff2cc" stroke="#1f3864" stroke-width="2"/>
<text x="384" y="541" class="mb" font-size="20">PC<tspan font-size="12" dy="-8">M</tspan></text></g>
<use href="#pc1" x="242"/><use href="#pcm" x="242"/><use href="#pc1" x="573"/><use href="#pcm" x="573"/><use href="#pcm" x="966"/>
<!-- o->PC arrows -->
<g stroke-width="2.5"><path d="M351,497h18" stroke="#4472c4" marker-end="url(#ab)"/><path d="M351,532h18" stroke="#c59a00" marker-end="url(#ay)"/>
<path d="M593,497h18" stroke="#4472c4" marker-end="url(#ab)"/><path d="M593,532h18" stroke="#c59a00" marker-end="url(#ay)"/>
<path d="M924,497h19" stroke="#4472c4" marker-end="url(#ab)"/><path d="M924,532h19" stroke="#c59a00" marker-end="url(#ay)"/>
<path d="M1317,532h19" stroke="#c59a00" marker-end="url(#ay)"/></g>
<!-- theta hollow arrows -->
<g id="th">
<path d="M399,483v-33h-5l8,-12 8,12h-5v33z" fill="#fff" stroke="#2e75b6" stroke-width="1.5"/>
<path d="M399,546v30h-5l8,11 8,-11h-5v-30z" fill="#fff2cc" stroke="#c59a00" stroke-width="1.5"/>
</g>
<use href="#th" x="242"/><use href="#th" x="573"/>
<path d="M1365,546v30h-5l8,11 8,-11h-5v-30z" fill="#fff2cc" stroke="#c59a00" stroke-width="1.5"/>
<!-- green up arrows -->
<g fill="#e2efda" stroke="#548235" stroke-width="1.5">
<path d="M325,680v-116h-5l8,-16 8,16h-5v116z"/><path d="M567,680v-116h-5l8,-16 8,16h-5v116z"/>
<path d="M898,680v-116h-5l8,-16 8,16h-5v116z"/><path d="M1291,680v-116h-5l8,-16 8,16h-5v116z"/></g>
<!-- dashed -->
<g fill="none" stroke-width="2.2" stroke-dasharray="8,5">
<path d="M415,482 C440,478 455,440 464,348" stroke="#4472c4"/>
<path d="M420,590 C450,580 462,480 466,348" stroke="#c59a00" marker-end="url(#ay)"/>
<path d="M657,482 C682,478 698,440 706,348" stroke="#4472c4"/>
<path d="M662,590 C692,580 704,480 708,348" stroke="#c59a00" marker-end="url(#ay)"/>
<path d="M1030,482 C1035,478 1040,440 1043,348" stroke="#4472c4"/>
<path d="M1030,590 C1040,580 1044,480 1045,348" stroke="#c59a00" marker-end="url(#ay)"/>
<path d="M1413,540 V348" stroke="#c59a00" marker-end="url(#ay)"/>
</g>
<!-- topology arrow -->
<path d="M1460,278 C1468,320 1460,345 1442,366" fill="none" stroke="#4472c4" stroke-width="6" stroke-dasharray="16,6"/>
<path d="M1430,390 L1433,355 L1455,372z" fill="#4472c4"/>
<!-- labels (c) -->
<g class="m" font-size="17">
<text x="360" y="380">B<tspan font-size="11" dy="-8">1,1</tspan></text>
<text x="360" y="658">B<tspan font-size="11" dy="-8">M,1</tspan></text>
<text x="603" y="380">B<tspan font-size="11" dy="-8">1,2</tspan></text>
<text x="603" y="658">B<tspan font-size="11" dy="-8">M,2</tspan></text>
<text x="955" y="380">B<tspan font-size="11" dy="-8">1,</tspan><tspan font-size="11" class="mb" fill="#2e75b6">D</tspan><tspan font-size="8" dy="6" class="mb" fill="#2e75b6">i</tspan></text>
<text x="955" y="658">B<tspan font-size="11" dy="-8">M,</tspan><tspan font-size="11" class="mb">D</tspan><tspan font-size="8" dy="6" class="mb">i</tspan></text>
<text x="1347" y="660">B<tspan font-size="11" dy="-8">M,</tspan><tspan font-size="11" class="mb" fill="#bf9000">D</tspan><tspan font-size="8" dy="6" class="mb" fill="#bf9000">i</tspan></text>
</g>
<g class="mb" font-size="19">
<text x="408" y="470" fill="#2e75b6">θ<tspan font-size="12" dy="-9">1,1</tspan><tspan font-size="12" dx="-18" dy="13">i</tspan></text>
<text x="408" y="573" fill="#bf9000">θ<tspan font-size="12" dy="-9">M,1</tspan><tspan font-size="12" dx="-21" dy="13">i</tspan></text>
<text x="650" y="470" fill="#2e75b6">θ<tspan font-size="12" dy="-9">1,2</tspan><tspan font-size="12" dx="-18" dy="13">i</tspan></text>
<text x="650" y="573" fill="#bf9000">θ<tspan font-size="12" dy="-9">M,2</tspan><tspan font-size="12" dx="-21" dy="13">i</tspan></text>
<text x="982" y="470" fill="#2e75b6">θ<tspan font-size="12" dy="-9">1,D</tspan><tspan font-size="12" dx="-18" dy="13">i</tspan></text>
<text x="982" y="573" fill="#bf9000">θ<tspan font-size="12" dy="-9">M,D</tspan><tspan font-size="12" dx="-21" dy="13">i</tspan></text>
<text x="1375" y="573" fill="#bf9000">θ<tspan font-size="12" dy="-9">M,D</tspan><tspan font-size="12" dx="-21" dy="13">i</tspan></text>
</g>
<g class="m" font-size="16" fill="#548235">
<text x="262" y="377">I<tspan font-size="10" dy="-7">1</tspan><tspan font-size="10" dx="-5" dy="11">i</tspan></text>
<text x="500" y="377">I<tspan font-size="10" dy="-7">2</tspan><tspan font-size="10" dx="-5" dy="11">i</tspan></text>
<text x="746" y="377">I<tspan font-size="10" dy="-7">3</tspan><tspan font-size="10" dx="-5" dy="11">i</tspan></text>
<text x="840" y="380">I<tspan font-size="10" dy="-9">D</tspan><tspan font-size="7" dy="-3">1</tspan><tspan font-size="10" dx="-12" dy="16">i</tspan></text>
<text x="1081" y="380">I<tspan font-size="10" dy="-9">D</tspan><tspan font-size="7" dy="-3">1</tspan><tspan font-size="10" dy="3">+1</tspan><tspan font-size="10" dx="-28" dy="13">i</tspan></text>
<text x="1216" y="380">I<tspan font-size="10" dy="-9">D</tspan><tspan font-size="7" dy="-3">M</tspan><tspan font-size="10" dx="-14" dy="16">i</tspan></text>
</g>
<g class="m" font-size="16" fill="#2e75b6">
<text x="500" y="484">I<tspan font-size="10" dy="-7">1,2</tspan><tspan font-size="10" dx="-15" dy="11">i</tspan></text>
<text x="743" y="484">I<tspan font-size="10" dy="-7">1,3</tspan><tspan font-size="10" dx="-15" dy="11">i</tspan></text>
<text x="836" y="492">I<tspan font-size="10" dy="-9">1,D</tspan><tspan font-size="10" dx="-17" dy="16">i</tspan></text>
<text x="1087" y="490">f<tspan font-size="10" dy="-7">1</tspan><tspan font-size="10" dx="-5" dy="11">i</tspan></text>
<text x="1221" y="490">f<tspan font-size="10" dy="-7">1</tspan><tspan font-size="10" dx="-5" dy="11">i</tspan></text>
<text x="1462" y="490">f<tspan font-size="10" dy="-7">1</tspan><tspan font-size="10" dx="-5" dy="11">i</tspan></text>
</g>
<g class="m" font-size="16" fill="#bf9000">
<text x="500" y="555">I<tspan font-size="10" dy="-7">M,2</tspan><tspan font-size="10" dx="-17" dy="11">i</tspan></text>
<text x="743" y="555">I<tspan font-size="10" dy="-7">M,3</tspan><tspan font-size="10" dx="-17" dy="11">i</tspan></text>
<text x="836" y="560">I<tspan font-size="10" dy="-9">M,D</tspan><tspan font-size="10" dx="-19" dy="16">i</tspan></text>
<text x="1075" y="560">I<tspan font-size="10" dy="-9">M,D</tspan><tspan font-size="10" dy="0">+1</tspan><tspan font-size="10" dx="-30" dy="16">i</tspan></text>
<text x="1210" y="560">I<tspan font-size="10" dy="-9">M,D</tspan><tspan font-size="10" dx="-19" dy="16">i</tspan></text>
<text x="1462" y="555">f<tspan font-size="10" dy="-7">M</tspan><tspan font-size="10" dx="-8" dy="11">i</tspan></text>
</g>
<text x="1140" y="395" class="m" font-size="19">Copy</text>
<text x="1306" y="395" class="m" font-size="19">Copy</text>
<!-- concat/classifier -->
<rect x="1498" y="389" width="38" height="258" rx="7" fill="#fff" stroke="#000" stroke-width="2"/>
<rect x="1555" y="389" width="37" height="258" rx="7" fill="#fff" stroke="#000" stroke-width="2"/>
<text transform="translate(1510,518) rotate(90)" font-size="18" text-anchor="middle">Concat</text>
<text transform="translate(1567,518) rotate(90)" font-size="18" text-anchor="middle">Classifier</text>
<path d="M1536,518h17" stroke="#000" stroke-width="2" marker-end="url(#ak)"/>
<path d="M1592,518h17" stroke="#000" stroke-width="2" marker-end="url(#ak)"/>
<text x="1620" y="528" class="mb" font-size="20">ŷ<tspan font-size="12" dy="4">i</tspan></text>
</svg>
</body></html>
